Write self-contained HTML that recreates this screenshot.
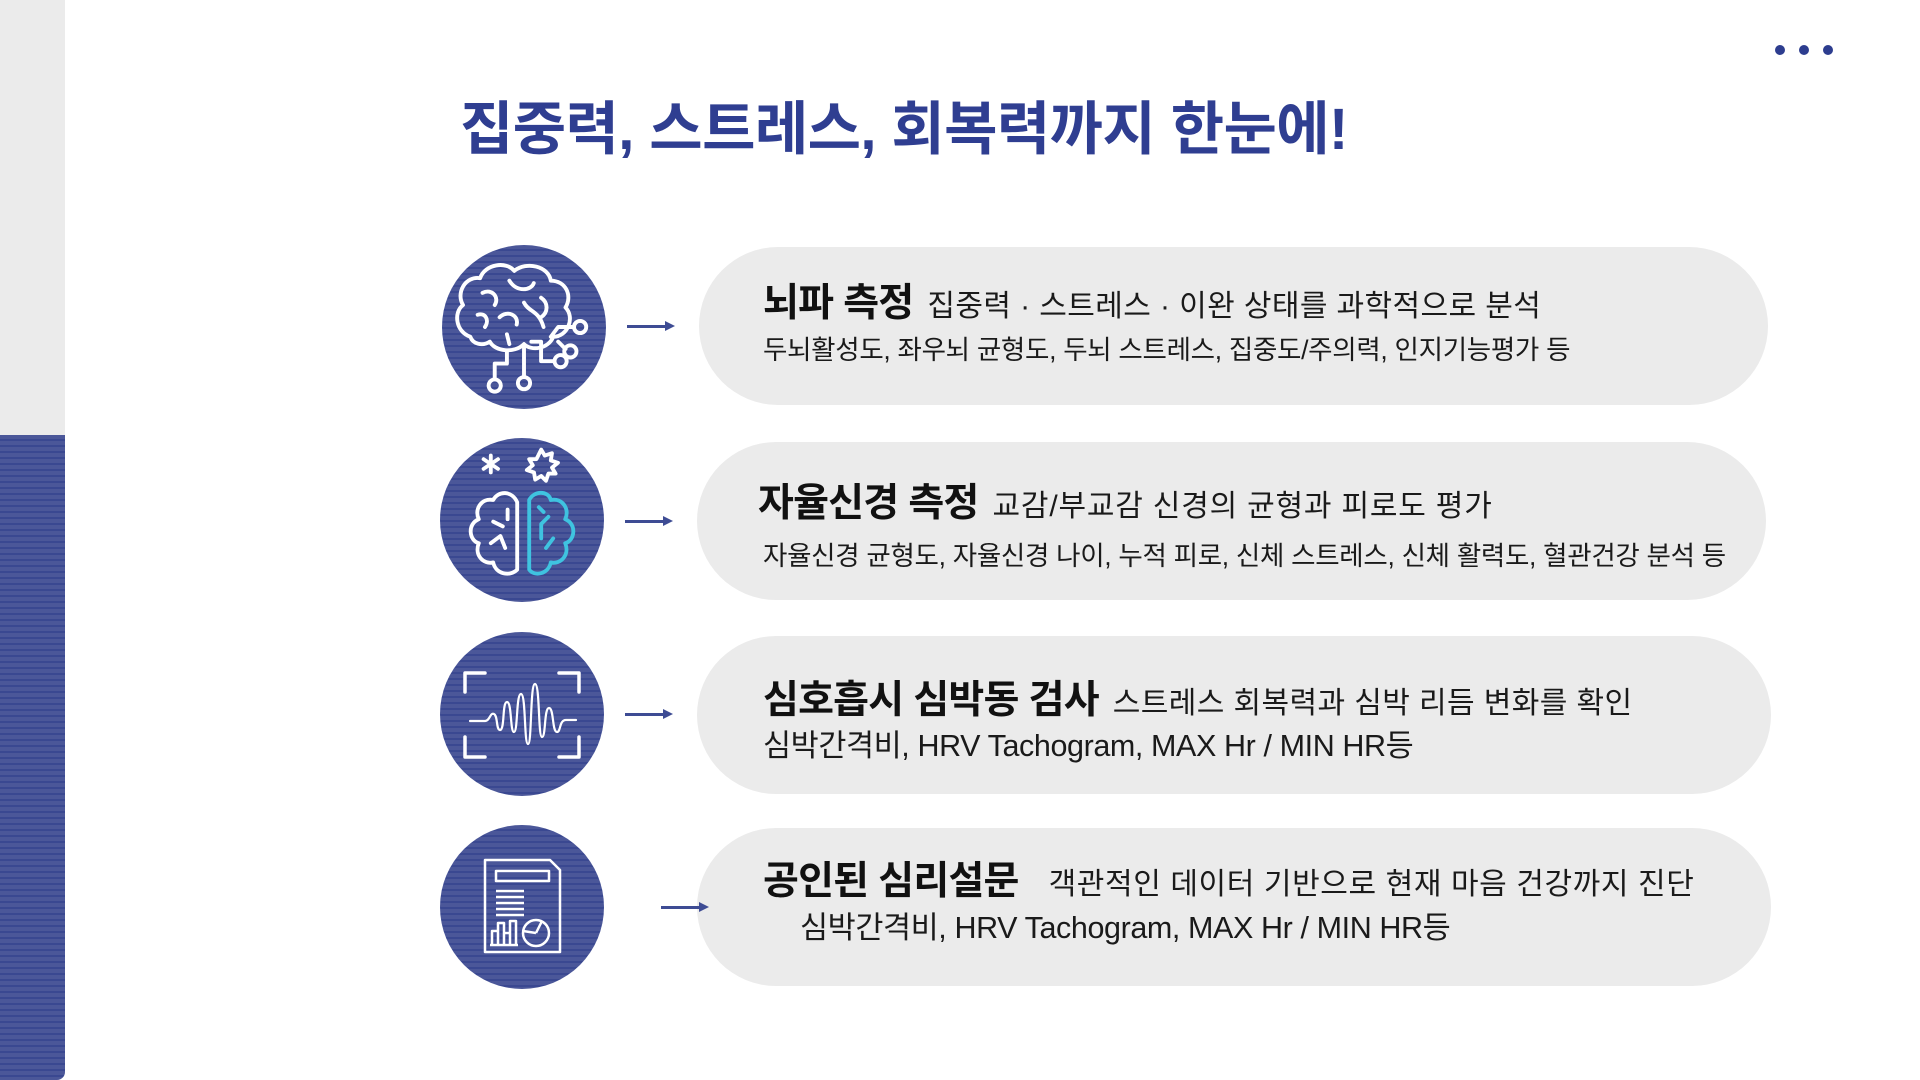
<!DOCTYPE html>
<html><head><meta charset="utf-8"><style>
*{margin:0;padding:0;box-sizing:border-box}
body{width:1920px;height:1080px;background:#fff;position:relative;overflow:hidden;font-family:"Liberation Sans","Noto Sans CJK KR",sans-serif;color:#1a1a1a}
.bar1{position:absolute;left:0;top:0;width:65px;height:435px;background:#ebebeb}
.bar2{position:absolute;left:0;top:435px;width:65px;height:645px;border-bottom-right-radius:8px;background:repeating-linear-gradient(180deg,#4b5799 0 4px,#3a4891 4px 6px)}
.dot{position:absolute;width:10px;height:10px;border-radius:50%;background:#2d3d8f;top:45px}
.title{position:absolute;left:460px;top:101px;font-size:58px;font-weight:bold;color:#2f3e91;letter-spacing:-0.6px;white-space:nowrap;line-height:1}
.circ{position:absolute;width:164px;height:164px;border-radius:50%;background:repeating-linear-gradient(180deg,#4b5799 0 4px,#3a4891 4px 6px);overflow:hidden}
.circ svg{position:absolute;left:0;top:0}
.arrow{position:absolute;height:3px;width:40px;background:#3e4c94}
.arrow:after{content:"";position:absolute;right:-8px;top:-4px;border-left:10px solid #3e4c94;border-top:5.5px solid transparent;border-bottom:5.5px solid transparent}
.pill{position:absolute;background:#ebebeb;border-radius:79px;height:158px}
.t{position:absolute;white-space:nowrap;line-height:1}
.h{font-size:39px;font-weight:bold;letter-spacing:-0.8px;color:#111}
.s{font-size:30px;letter-spacing:0.4px;margin-left:14px;font-weight:normal;color:#1a1a1a}
.l{font-size:26.5px;letter-spacing:-0.3px;color:#1a1a1a}
.l2{font-size:30.5px;letter-spacing:-0.4px;color:#1a1a1a}
</style></head><body>
<div class="bar1"></div><div class="bar2"></div>
<div class="dot" style="left:1775px"></div><div class="dot" style="left:1799px"></div><div class="dot" style="left:1823px"></div>
<div class="title">집중력, 스트레스, 회복력까지 한눈에!</div>

<div class="pill" style="left:699px;top:247px;width:1069px"></div>
<div class="pill" style="left:697px;top:442px;width:1069px"></div>
<div class="pill" style="left:697px;top:636px;width:1074px"></div>
<div class="pill" style="left:697px;top:828px;width:1074px"></div>

<div class="arrow" style="left:627px;top:325px"></div>
<div class="arrow" style="left:625px;top:520px"></div>
<div class="arrow" style="left:625px;top:713px"></div>
<div class="arrow" style="left:661px;top:906px"></div>

<div class="circ" style="left:442px;top:245px"><svg width="164" height="164" fill="none" stroke="#fff" stroke-width="3.2" stroke-linecap="round" stroke-linejoin="round"><g transform="translate(82 82) scale(1.22) translate(-84 -84)">
<path d="M40 92 C28 88 26 72 34 66 C28 56 36 42 48 44 C52 32 70 30 76 38 C86 30 104 34 106 46 C118 46 124 58 118 68 C126 76 120 92 108 92 C104 102 90 104 84 98 C76 106 60 104 56 96 C50 100 42 98 40 92Z"/>
<path d="M50 56 C58 52 64 60 60 66 M72 46 C78 56 90 54 92 48 M98 60 C104 64 104 72 98 76 M64 76 C70 70 80 74 78 82 M46 74 C52 72 56 78 52 84 M84 64 C88 72 96 70 100 84 M70 90 L72 98"/>
<path d="M70 104 L70 114 L60 114 L60 126 M84 100 L84 124 M90 96 L98 96 L98 112 L108 112 M106 92 L112 84 L124 84 M112 96 L118 102"/>
<circle cx="60" cy="132" r="5"/><circle cx="84" cy="130" r="5"/><circle cx="114" cy="112" r="5"/><circle cx="130" cy="84" r="5"/><circle cx="122" cy="104" r="5"/></g></svg></div>

<div class="circ" style="left:440px;top:438px"><svg width="164" height="164" fill="none" stroke="#fff" stroke-width="3.2" stroke-linecap="round" stroke-linejoin="round"><g transform="translate(82 74) scale(1.2) translate(-82 -74)">
<path d="M56 27 L56 41 M50 30 L62 38 M50 38 L62 30"/>
<path d="M98 22 L101 27 L107 25 L106 31 L112 33 L107 37 L110 42 L104 42 L102 48 L98 44 L93 47 L92 41 L86 39 L91 35 L88 30 L94 30Z"/>
<path d="M78 66 C74 56 62 56 58 64 C48 62 42 72 46 80 C36 84 38 98 46 100 C42 110 50 118 58 116 C60 126 72 128 78 122 L78 66"/>
<path d="M58 82 L66 86 M56 100 L64 94 L68 104 M70 72 L70 80"/>
<path stroke="#3fc3e0" d="M88 64 C92 56 104 56 106 64 C116 62 122 72 118 80 C128 84 126 98 118 100 C122 110 114 118 106 116 C104 126 92 128 88 122 L88 64 M104 78 L98 84 L98 96 M108 96 L102 104 M96 70 L100 74"/></g></svg></div>

<div class="circ" style="left:440px;top:632px"><svg width="164" height="164" fill="none" stroke="#fff" stroke-linecap="round" stroke-linejoin="round">
<path stroke-width="3.5" d="M45 41 L25 41 L25 60 M119 41 L139 41 L139 60 M25 105 L25 125 L45 125 M139 105 L139 125 L119 125"/>
<path stroke-width="2.2" d="M30 89 L45 89 C50 89 50 80 54 82 C58 84 56 98 60 98 C65 98 62 70 67 70 C72 70 70 100 74 100 C78 100 76 62 81 62 C86 62 84 112 88 112 C92 112 90 52 95 52 C100 52 98 105 102 105 C106 105 104 76 109 76 C114 76 112 100 117 100 C121 100 119 88 126 88 L136 88"/></svg></div>

<div class="circ" style="left:440px;top:825px"><svg width="164" height="164" fill="none" stroke="#fff" stroke-width="2.5" stroke-linejoin="round">
<path d="M45 35 L110 35 L120 45 L120 127 L45 127Z"/>
<rect x="56" y="46" width="53" height="10"/>
<path d="M56 66 L84 66 M56 72 L84 72 M56 78 L84 78 M56 84 L84 84 M56 90 L84 90"/>
<path d="M52 120 L52 106 L58 106 L58 120 M58 120 L58 98 L64 98 L64 120 M64 120 L64 108 L70 108 L70 120 M70 120 L70 96 L76 96 L76 120 M50 120 L78 120"/>
<circle cx="96" cy="108" r="13"/><path d="M96 108 L83 106 M96 108 L102 96"/></svg></div>

<div class="t h" style="left:763px;top:284px">뇌파 측정<span class="s">집중력 · 스트레스 · 이완 상태를 과학적으로 분석</span></div>
<div class="t l" style="left:763px;top:337px">두뇌활성도, 좌우뇌 균형도, 두뇌 스트레스, 집중도/주의력, 인지기능평가 등</div>

<div class="t h" style="left:758px;top:484px">자율신경 측정<span class="s" style="letter-spacing:0.8px">교감/부교감 신경의 균형과 피로도 평가</span></div>
<div class="t l" style="left:763px;top:543px">자율신경 균형도, 자율신경 나이, 누적 피로, 신체 스트레스, 신체 활력도, 혈관건강 분석 등</div>

<div class="t h" style="left:763px;top:681px">심호흡시 심박동 검사<span class="s">스트레스 회복력과 심박 리듬 변화를 확인</span></div>
<div class="t l2" style="left:763px;top:731px">심박간격비, HRV Tachogram, MAX Hr / MIN HR등</div>

<div class="t h" style="left:763px;top:862px">공인된 심리설문<span class="s" style="margin-left:30px;letter-spacing:0.6px">객관적인 데이터 기반으로 현재 마음 건강까지 진단</span></div>
<div class="t l2" style="left:800px;top:913px">심박간격비, HRV Tachogram, MAX Hr / MIN HR등</div>
</body></html>
